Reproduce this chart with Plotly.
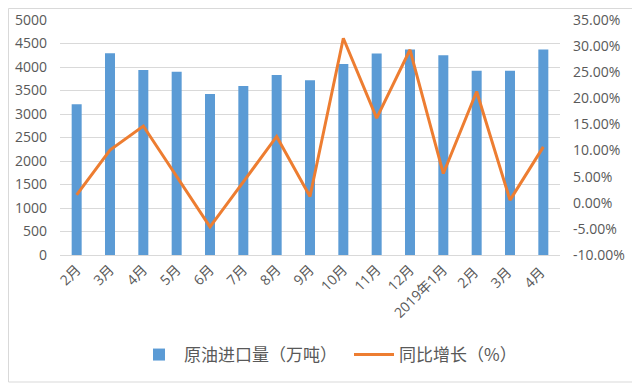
import plotly.graph_objects as go

categories = ["2月", "3月", "4月", "5月", "6月", "7月", "8月", "9月", "10月", "11月", "12月",
              "2019年1月", "2月 ", "3月 ", "4月 "]
imports = [3210, 4290, 3935, 3900, 3425, 3595, 3830, 3720, 4065, 4285, 4375, 4250, 3920, 3920, 4375]
growth = [1.5, 10.1, 14.7, 5.0, -4.6, 4.0, 12.7, 1.2, 31.5, 16.2, 29.3, 5.6, 21.3, 0.5, 10.7]

left_ticks = list(range(0, 5001, 500))
right_ticks = [-10, -5, 0, 5, 10, 15, 20, 25, 30, 35]
right_text = [f"{v:.2f}%" for v in right_ticks]

font_main = "Open Sans, Noto Sans CJK SC, sans-serif"
grey = "#595959"

fig = go.Figure()
fig.add_trace(go.Bar(x=categories, y=imports, name="原油进口量（万吨）",
                     marker=dict(color="#5B9BD5", line=dict(width=0))))
fig.add_trace(go.Scatter(x=categories, y=growth, name="同比增长（%）", yaxis="y2",
                         mode="lines", line=dict(color="#ED7D31", width=3)))

# page has an 8px body margin; compensate so plot area sits at x 60-560, y 20-255
OFF = 8
W, H = 640 - OFF, 385 - OFF
L, R, T, B = 60 - OFF, 80, 20 - OFF, 130
pw, ph = W - L - R, H - T - B

fig.update_layout(
    width=W, height=H,
    margin=dict(l=L, r=R, t=T, b=B, pad=0, autoexpand=False),
    paper_bgcolor="white", plot_bgcolor="white",
    bargap=0.7,
    font=dict(family=font_main, size=14, color=grey),
    showlegend=True,
    legend=dict(orientation="h", x=(349 - 60) / 500, xanchor="center", y=(255 - 355) / ph,
                yanchor="middle", entrywidth=160, entrywidthmode="pixels",
                font=dict(family="Noto Sans CJK SC, sans-serif", size=17, color=grey),
                itemwidth=40, traceorder="normal"),
    xaxis=dict(type="category", tickangle=-45, showgrid=False, showline=True, automargin=False,
               linecolor="#d9d9d9", linewidth=1, ticks="", tickfont=dict(size=14, color=grey),
               range=[-0.5, len(categories) - 0.5]),
    yaxis=dict(range=[0, 5000], tickvals=left_ticks, showgrid=True, gridcolor="#d9d9d9",
               gridwidth=1, zeroline=False, ticks="", showline=False, automargin=False,
               tickfont=dict(size=14, color=grey), ticklabelstandoff=12),
    yaxis2=dict(range=[-10, 35], overlaying="y", side="right", tickvals=right_ticks,
                ticktext=right_text, showgrid=False, zeroline=False, showline=False,
                automargin=False,
                ticks="", tickfont=dict(size=14, color=grey), ticklabelstandoff=12),
    shapes=[dict(type="rect", xref="paper", yref="paper",
                 x0=(-L + 0.5) / pw, x1=(W - L - 3) / pw,
                 y0=(ph - (H - T) + 3) / ph, y1=(ph + T - 0.5) / ph,
                 line=dict(color="#d9d9d9", width=1), fillcolor="rgba(0,0,0,0)", layer="below")],
)

fig.write_html("out.html")
